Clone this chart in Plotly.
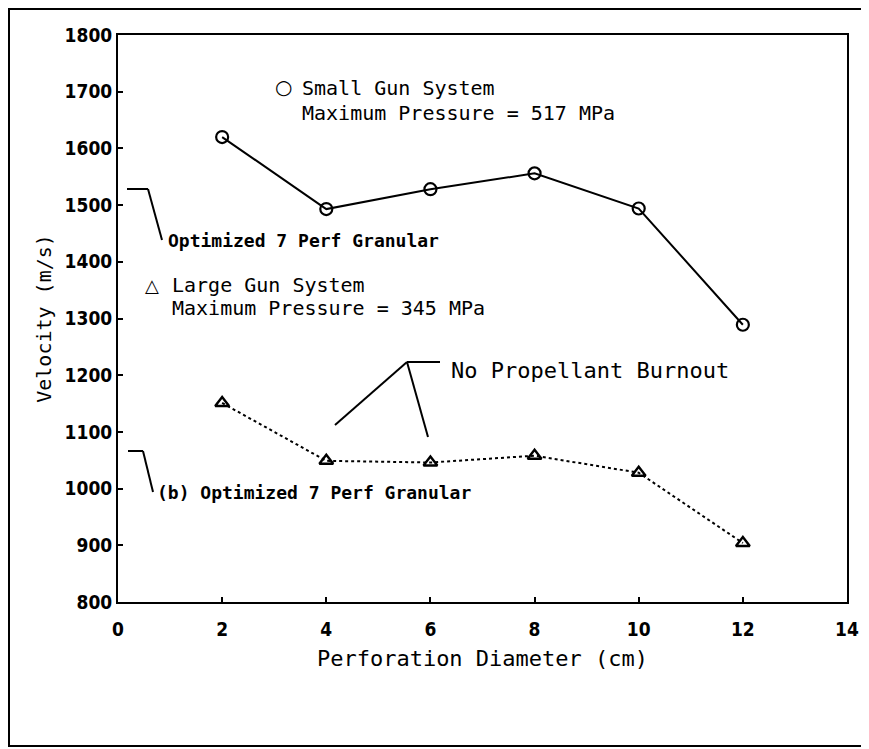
import plotly.graph_objects as go

# ---- data ----
perf_diameter = [2, 4, 6, 8, 10, 12]
small_gun_velocity = [1620, 1493, 1528, 1556, 1494, 1289]
large_gun_velocity = [1151, 1049, 1046, 1058, 1028, 904]
x_ticks = [0, 2, 4, 6, 8, 10, 12, 14]
y_ticks = [800, 900, 1000, 1100, 1200, 1300, 1400, 1500, 1600, 1700, 1800]

# page is rendered with an 8px body margin
OFF = 8
W, H = 869 - OFF, 749 - OFF
PL, PR, PT, PB = 118, 847, 35, 602          # plot box in page pixels
L, T = PL - OFF, PT - OFF
R, B = W - (PR - OFF), H - (PB - OFF)
PW, PH = PR - PL, PB - PT
X0, X1, Y0, Y1 = 0, 14, 800, 1800


def dx(px):
    return X0 + (px - PL) / PW * (X1 - X0)


def dy(py):
    return Y1 - (py - PT) / PH * (Y1 - Y0)


SANS = "DejaVu Sans"
COND = "DejaVu Sans Condensed, DejaVu Sans"
MONO = "DejaVu Sans Mono"

fig = go.Figure()
fig.add_trace(go.Scatter(
    x=perf_diameter, y=small_gun_velocity, mode="lines+markers",
    line=dict(color="black", width=2),
    marker=dict(symbol="circle-open", size=12, color="black", line=dict(width=2.2)),
    showlegend=False))
fig.add_trace(go.Scatter(
    x=perf_diameter, y=large_gun_velocity, mode="lines+markers",
    line=dict(color="black", width=2, dash="dot"),
    marker=dict(symbol="triangle-up-open", size=12, color="black", line=dict(width=2.4)),
    showlegend=False))

shapes = []


def seg(p1, p2, w=2):
    shapes.append(dict(type="line", xref="x", yref="y",
                       x0=dx(p1[0]), y0=dy(p1[1]), x1=dx(p2[0]), y1=dy(p2[1]),
                       line=dict(color="black", width=w)))


# bracket callouts
seg((127, 189), (148, 189))
seg((148, 189), (162, 240))
seg((128, 451), (143, 451))
seg((143, 451), (153, 492))
# "No Propellant Burnout" pointer lines
seg((440, 362), (407, 362))
seg((407, 362), (335, 425))
seg((407, 362), (428, 437))

# outer frame
shapes.append(dict(type="rect", xref="paper", yref="paper",
                   x0=(9 - PL) / PW, x1=(863 - PL) / PW,
                   y0=(PB - 746) / PH, y1=(PB - 9) / PH,
                   line=dict(color="black", width=2)))

annotations = []


def txt(s, px, py, size=20, bold=False, family=MONO, anchor="left"):
    annotations.append(dict(
        text=f"<b>{s}</b>" if bold else s, x=dx(px), y=dy(py), xref="x", yref="y",
        xanchor=anchor, yanchor="middle", showarrow=False,
        font=dict(family=family, size=size, color="black")))


txt("○", 283, 87, size=20, family=SANS, anchor="center")
txt("Small Gun System", 300, 88)
txt("Maximum Pressure = 517 MPa", 300, 113)
txt("△", 152, 285, size=18, family=SANS, anchor="center")
txt("Large Gun System", 170, 285)
txt("Maximum Pressure = 345 MPa", 170, 308)
txt("Optimized 7 Perf Granular", 166, 240, size=18, bold=True)
txt("(b) Optimized 7 Perf Granular", 155, 492, size=18, bold=True)
txt("No Propellant Burnout", 449, 370, size=22)

axis_common = dict(
    showline=True, linecolor="black", linewidth=2, mirror=True,
    ticks="inside", ticklen=5, tickwidth=2, tickcolor="black",
    showgrid=False, zeroline=False,
    tickfont=dict(family=COND, size=19, color="black", weight="bold"),
)

fig.update_layout(
    width=W, height=H,
    margin=dict(l=L, r=R, t=T, b=B, autoexpand=False),
    paper_bgcolor="white", plot_bgcolor="white",
    xaxis=dict(range=[X0, X1], tickvals=x_ticks, ticktext=[str(v) for v in x_ticks],
               ticklabelstandoff=9,
               title=dict(text="Perforation Diameter (cm)",
                          font=dict(family=MONO, size=22, color="black"), standoff=12),
               **axis_common),
    yaxis=dict(range=[Y0, Y1], tickvals=y_ticks, ticktext=[str(v) for v in y_ticks],
               ticklabelstandoff=0,
               title=dict(text="Velocity (m/s)",
                          font=dict(family=MONO, size=20, color="black"), standoff=8),
               **axis_common),
    shapes=shapes, annotations=annotations,
)

fig.write_html("out.html")
